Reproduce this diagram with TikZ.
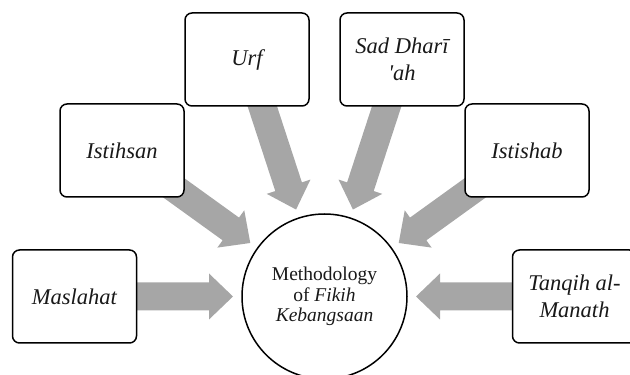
\documentclass[tikz,border=0pt]{standalone}
\usepackage{fontspec}
\setmainfont{Liberation Serif}[ItalicFont={Liberation Serif Italic}]
\usetikzlibrary{calc}
\pgfdeclarelayer{bg}
\pgfsetlayers{bg,main}
\definecolor{arrowgray}{RGB}{166,166,166}
\definecolor{inkc}{RGB}{25,25,25}
% block arrow from box #1 converging on circle #2
\newcommand{\radarrow}[2]{%
  \fill[arrowgray] let \p1=($(#1)-(#2)$), \n1={atan2(\y1,\x1)} in
    ($(#2)+(\n1:91.5pt)$)
    -- ($(#2)+(\n1:115.5pt)+(\n1+90:23pt)$)
    -- ($(#2)+(\n1:115.5pt)+(\n1+90:14pt)$)
    -- ($(#1)+(\n1+90:14pt)$)
    -- ($(#1)+(\n1-90:14pt)$)
    -- ($(#2)+(\n1:115.5pt)+(\n1-90:14pt)$)
    -- ($(#2)+(\n1:115.5pt)+(\n1-90:23pt)$)
    -- cycle;}
\tikzset{
  srcbox/.style={draw=black, line width=1.5pt, rounded corners=7pt, fill=white,
    minimum width=124pt, minimum height=93pt, inner sep=0pt, align=center,
    text=inkc, font=\fontsize{22.5}{27}\selectfont\itshape},
  hub/.style={circle, draw=black, line width=1.5pt, fill=white,
    minimum size=165pt, inner sep=0pt, align=center, text=inkc,
    font=\fontsize{19.5}{20.5}\selectfont}
}
\begin{document}
\begin{tikzpicture}[x=1pt,y=1pt]
\useasboundingbox (0,0) rectangle (630,375);
\clip (0,0) rectangle (630,375);
\node[hub] (c) at (324.5,78.5) {Methodology\\of \textit{Fikih}\\\textit{Kebangsaan}};
\node[srcbox] (m) at (74.5,78.5) {Maslahat};
\node[srcbox] (t) at (574.5,78.5) {Tanqih al-\\Manath};
\node[srcbox] (ih) at (122,224.5) {Istihsan};
\node[srcbox] (is) at (527,224.5) {Istishab};
\node[srcbox] (u) at (247,315.5) {Urf};
\node[srcbox] (s) at (402,315.5) {Sad Dharī\\\textquotesingle ah};
\begin{pgfonlayer}{bg}
\radarrow{m}{c}
\radarrow{t}{c}
\radarrow{ih}{c}
\radarrow{is}{c}
\radarrow{u}{c}
\radarrow{s}{c}
\end{pgfonlayer}
\end{tikzpicture}
\end{document}
